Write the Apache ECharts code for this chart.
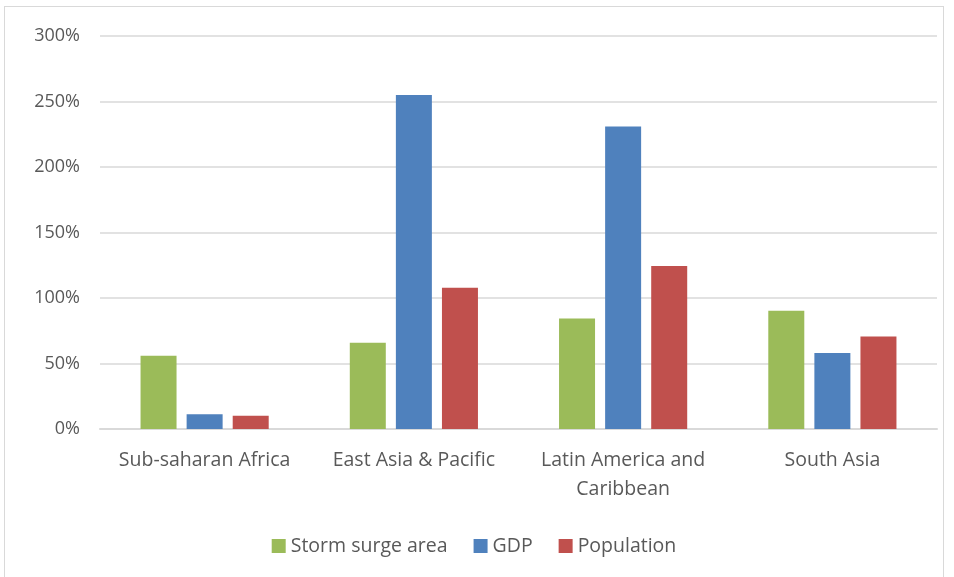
<!DOCTYPE html>
<html>
<head>
<meta charset="utf-8">
<script src="https://cdn.jsdelivr.net/npm/echarts@6/dist/echarts.min.js"></script>
<style>
  html, body { margin: 0; padding: 0; background: #fff; }
  #chart { position: absolute; left: 4px; top: 6px; width: 940px; height: 580px; border: 1px solid #d9d9d9; box-sizing: border-box; }
</style>
</head>
<body>
<div id="chart"></div>
<script>
var regions = ['Sub-saharan Africa', 'East Asia & Pacific', 'Latin America and\nCaribbean', 'South Asia'];
var stormSurge = [56.0, 65.8, 84.3, 90.2];
var gdp = [11.2, 255, 231, 58.0];
var population = [10.2, 107.8, 124.5, 70.7];
var yTicks = [0, 50, 100, 150, 200, 250, 300];

var font = '"Open Sans", "Noto Sans", sans-serif';
var chart = echarts.init(document.getElementById('chart'));
chart.setOption({
  animation: false,
  textStyle: { fontFamily: font },
  grid: { left: 95, right: 6, top: 29, bottom: 156 },
  legend: {
    bottom: 24,
    left: 'center',
    itemWidth: 14,
    itemHeight: 14,
    itemGap: 26,
    icon: 'rect',
    textStyle: { color: '#595959', fontSize: 19.5, fontFamily: font }
  },
  xAxis: {
    type: 'category',
    data: regions,
    axisLine: { lineStyle: { color: '#d9d9d9', width: 2 } },
    axisTick: { show: false },
    axisLabel: { interval: 0, color: '#595959', fontSize: 19.5, margin: 17, lineHeight: 29, fontFamily: font }
  },
  yAxis: {
    type: 'value',
    min: yTicks[0],
    max: yTicks[yTicks.length - 1],
    interval: 50,
    axisLine: { show: false },
    axisTick: { show: false },
    splitLine: { lineStyle: { color: '#d9d9d9', width: 1.5 } },
    axisLabel: { color: '#595959', fontSize: 18, margin: 20, fontFamily: font, formatter: '{value}%' }
  },
  series: [
    { name: 'Storm surge area', type: 'bar', data: stormSurge, itemStyle: { color: '#9bbb59' }, barWidth: 36, barGap: '28%' },
    { name: 'GDP', type: 'bar', data: gdp, itemStyle: { color: '#4f81bd' }, barWidth: 36, barGap: '28%' },
    { name: 'Population', type: 'bar', data: population, itemStyle: { color: '#c0504d' }, barWidth: 36, barGap: '28%' }
  ]
});
</script>
</body>
</html>
